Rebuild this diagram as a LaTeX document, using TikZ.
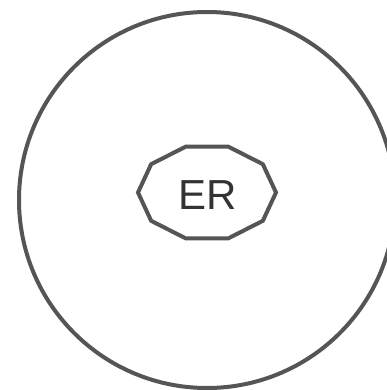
\documentclass[tikz,border=0pt]{standalone}
\usepackage{fontspec}
\setmainfont{Liberation Sans}
\usepackage{xcolor}
\usepackage{tikz}
\definecolor{edgegray}{HTML}{555555}
\definecolor{textgray}{HTML}{333333}

\begin{document}
\begin{tikzpicture}[
    x=1pt, y=-1pt,
    ring/.style={draw=edgegray, line width=4pt, circle, inner sep=0pt,
                 minimum size=376pt},
    label/.style={text=textgray, font=\fontsize{42}{42}\selectfont,
                  inner sep=0pt},
    outline/.style={draw=edgegray, line width=4pt, line join=miter}]
    \useasboundingbox (0,0) rectangle (386,390);
    \node[ring] (cell) at (207,200) {};
    \node[label] (er) at (208,195) {ER};
    % decagon round the label
    \draw[outline, shift={(207,192.5)}] (0:69 and 48.2)
        \foreach \a in {36,72,...,324} { -- (\a:69 and 48.2) } -- cycle;
  \end{tikzpicture}
\end{document}
